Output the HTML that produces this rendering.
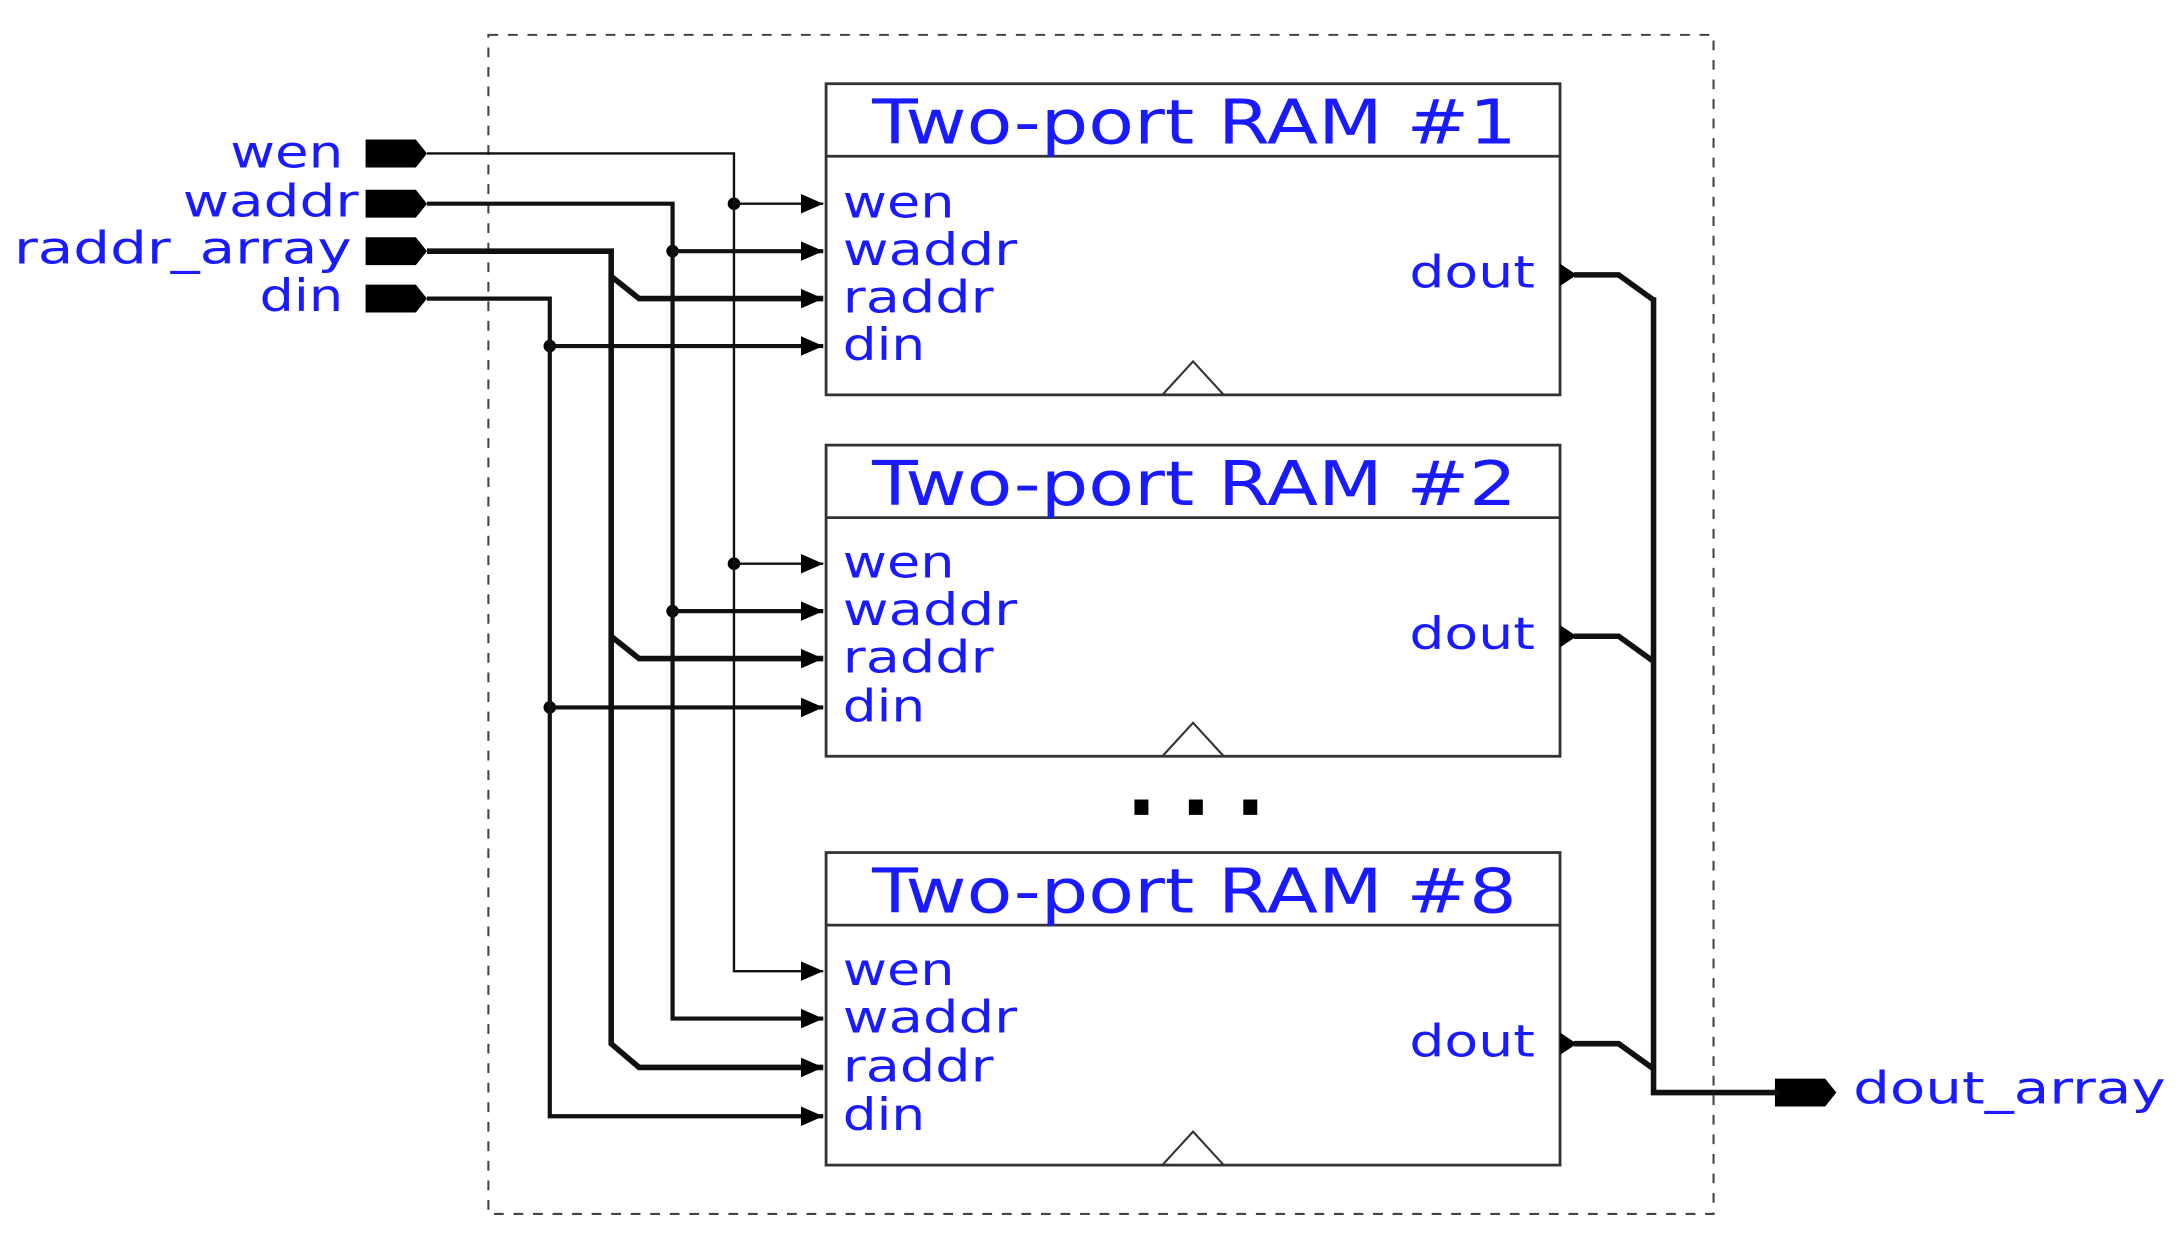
<!DOCTYPE html>
<html><head><style>html,body{margin:0;padding:0;background:#fff}svg{display:block}</style></head>
<body>
<svg width="2181" height="1253" viewBox="0 0 1563 898" preserveAspectRatio="none" xmlns="http://www.w3.org/2000/svg" font-family="'DejaVu Sans','Liberation Sans',sans-serif">
<defs>
<marker id="ar" markerWidth="20" markerHeight="16" refX="19" refY="8" orient="auto" markerUnits="userSpaceOnUse"><path d="M3,1 L19,8 L3,15 z" fill="#000"/></marker>
</defs>
<rect x="350" y="25" width="878" height="845" fill="none" stroke="#444" stroke-width="1.5" stroke-dasharray="7,7"/>
<g fill="#fff" stroke="#333" stroke-width="2">
<rect x="592" y="60" width="526" height="223"/><line x1="592" y1="112" x2="1118" y2="112"/>
<rect x="592" y="319" width="526" height="223"/><line x1="592" y1="371" x2="1118" y2="371"/>
<rect x="592" y="611" width="526" height="224"/><line x1="592" y1="663" x2="1118" y2="663"/>
</g>
<g fill="none" stroke="#333" stroke-width="1.5">
<path d="M833,283 L855,259 L877,283"/><path d="M833,542 L855,518 L877,542"/><path d="M833,835 L855,811 L877,835"/>
</g>
<g fill="#1a1aff" font-size="44" lengthAdjust="spacingAndGlyphs">
<text x="625" y="103" textLength="462" lengthAdjust="spacingAndGlyphs">Two-port RAM #1</text>
<text x="625" y="362" textLength="462" lengthAdjust="spacingAndGlyphs">Two-port RAM #2</text>
<text x="625" y="654" textLength="462" lengthAdjust="spacingAndGlyphs">Two-port RAM #8</text>
</g>
<g fill="#1a1aff" font-size="32">
<text x="604" y="156" textLength="80" lengthAdjust="spacingAndGlyphs">wen</text><text x="604" y="190" textLength="125" lengthAdjust="spacingAndGlyphs">waddr</text><text x="604" y="224" textLength="108" lengthAdjust="spacingAndGlyphs">raddr</text><text x="604" y="258" textLength="59" lengthAdjust="spacingAndGlyphs">din</text>
<text x="604" y="414" textLength="80" lengthAdjust="spacingAndGlyphs">wen</text><text x="604" y="448" textLength="125" lengthAdjust="spacingAndGlyphs">waddr</text><text x="604" y="482" textLength="108" lengthAdjust="spacingAndGlyphs">raddr</text><text x="604" y="517" textLength="59" lengthAdjust="spacingAndGlyphs">din</text>
<text x="604" y="706" textLength="80" lengthAdjust="spacingAndGlyphs">wen</text><text x="604" y="740" textLength="125" lengthAdjust="spacingAndGlyphs">waddr</text><text x="604" y="775" textLength="108" lengthAdjust="spacingAndGlyphs">raddr</text><text x="604" y="810" textLength="59" lengthAdjust="spacingAndGlyphs">din</text>
<text x="1010" y="206" textLength="90" lengthAdjust="spacingAndGlyphs">dout</text><text x="1010" y="465" textLength="90" lengthAdjust="spacingAndGlyphs">dout</text><text x="1010" y="757" textLength="90" lengthAdjust="spacingAndGlyphs">dout</text>
<text x="165" y="120" textLength="81" lengthAdjust="spacingAndGlyphs">wen</text><text x="131" y="155" textLength="126" lengthAdjust="spacingAndGlyphs">waddr</text>
<text x="10" y="189" textLength="242" lengthAdjust="spacingAndGlyphs">raddr_array</text><text x="186" y="223" textLength="60" lengthAdjust="spacingAndGlyphs">din</text>
<text x="1328" y="791" textLength="224" lengthAdjust="spacingAndGlyphs">dout_array</text>
</g>
<g fill="#000">
<path d="M262,100 h36 l8,10 l-8,10 h-36z"/><path d="M262,136 h36 l8,10 l-8,10 h-36z"/>
<path d="M262,170 h36 l8,10 l-8,10 h-36z"/><path d="M262,204 h36 l8,10 l-8,10 h-36z"/>
<path d="M1272,773 h36 l8,10 l-8,10 h-36z"/>
<rect x="813" y="573" width="10" height="11"/><rect x="852" y="573" width="10" height="11"/><rect x="891" y="573" width="10" height="11"/>
<path d="M1118,189 l12,8 l-12,8z"/><path d="M1118,448 l12,8 l-12,8z"/><path d="M1118,740 l12,8 l-12,8z"/>
<circle cx="526" cy="146" r="4.5"/><circle cx="526" cy="404" r="4.5"/>
<circle cx="482" cy="180" r="4.5"/><circle cx="482" cy="438" r="4.5"/>
<circle cx="394" cy="248" r="4.5"/><circle cx="394" cy="507" r="4.5"/>
</g>
<g fill="none" stroke="#111" stroke-linejoin="miter">
<g stroke-width="1.7">
<path d="M306,110 H526 V696 H590" marker-end="url(#ar)"/>
<path d="M526,146 H590" marker-end="url(#ar)"/><path d="M526,404 H590" marker-end="url(#ar)"/>
</g>
<g stroke-width="3">
<path d="M306,146 H482 V730 H590" marker-end="url(#ar)"/>
<path d="M482,180 H590" marker-end="url(#ar)"/><path d="M482,438 H590" marker-end="url(#ar)"/>
<path d="M306,214 H394 V800 H590" marker-end="url(#ar)"/>
<path d="M394,248 H590" marker-end="url(#ar)"/><path d="M394,507 H590" marker-end="url(#ar)"/>
</g>
<g stroke-width="4">
<path d="M306,180 H438 V748 L458,765 H590" marker-end="url(#ar)"/>
<path d="M438,198 L458,214 H590" marker-end="url(#ar)"/>
<path d="M438,456 L458,472 H590" marker-end="url(#ar)"/>
<path d="M1128,197 H1160 L1185,215"/><path d="M1128,456 H1160 L1185,474"/><path d="M1128,748 H1160 L1185,766"/>
<path d="M1185,213 V783 H1275"/>
</g>
</g>
</svg>
</body></html>
